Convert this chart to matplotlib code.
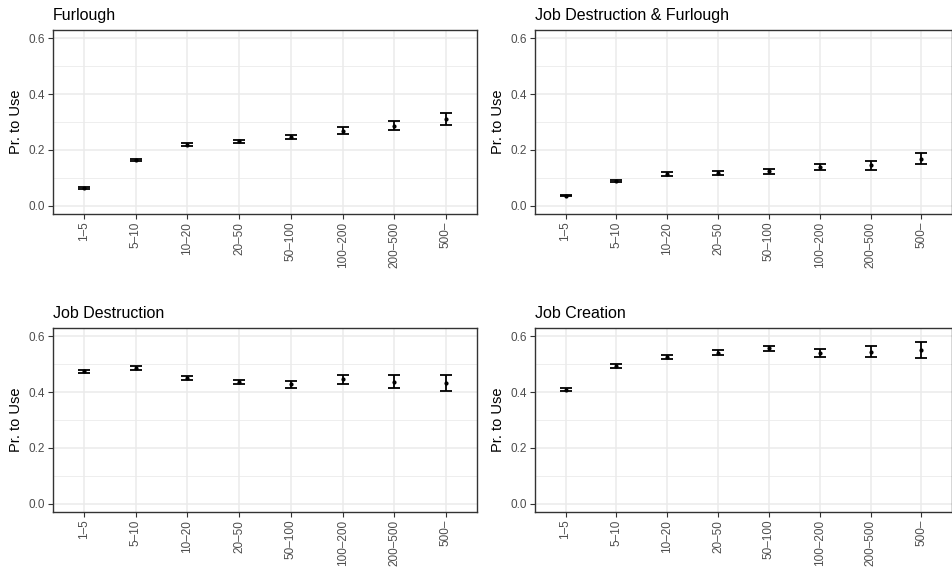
import numpy as np
import matplotlib
matplotlib.use("Agg")
import matplotlib.pyplot as plt
from matplotlib.ticker import MultipleLocator

plt.rcParams['font.family'] = ['Liberation Sans', 'DejaVu Sans']

# firm size classes
sizes = ["1–5", "5–10", "10–20", "20–50", "50–100", "100–200", "200–500", "500–"]

# estimated probability of use and half-width of the interval
furlough = [0.063, 0.165, 0.218, 0.231, 0.247, 0.269, 0.287, 0.310]
furlough_err = [0.004, 0.004, 0.005, 0.005, 0.008, 0.012, 0.015, 0.022]

jd_furlough = [0.036, 0.089, 0.114, 0.117, 0.123, 0.140, 0.144, 0.169]
jd_furlough_err = [0.003, 0.003, 0.006, 0.006, 0.008, 0.011, 0.016, 0.019]

job_destruction = [0.474, 0.485, 0.451, 0.437, 0.428, 0.446, 0.438, 0.434]
job_destruction_err = [0.007, 0.007, 0.008, 0.008, 0.012, 0.016, 0.022, 0.029]

job_creation = [0.409, 0.494, 0.527, 0.542, 0.557, 0.541, 0.545, 0.550]
job_creation_err = [0.006, 0.006, 0.007, 0.009, 0.009, 0.014, 0.020, 0.028]

panels = [
    ("Furlough", furlough, furlough_err),
    ("Job Destruction & Furlough", jd_furlough, jd_furlough_err),
    ("Job Destruction", job_destruction, job_destruction_err),
    ("Job Creation", job_creation, job_creation_err),
]

W, H = 953, 572
fig = plt.figure(figsize=(W / 100, H / 100), dpi=100)

# axes boxes in pixels: left, top, right, bottom
boxes = [(53, 30, 477, 214), (535, 30, 952, 214),
         (53, 328, 477, 512), (535, 328, 952, 512)]

x = np.arange(len(sizes))
for (title, vals, errs), (l, t, r, b) in zip(panels, boxes):
    ax = fig.add_axes([l / W, 1 - b / H, (r - l) / W, (b - t) / H])
    ax.errorbar(x, vals, yerr=errs, fmt='o', color='black', ms=2,
                elinewidth=1.3, capsize=4.2, capthick=1.3, zorder=3)
    ax.set_xlim(-0.6, len(sizes) - 0.4)
    ax.set_ylim(-0.03, 0.63)
    ax.set_xticks(x)
    ax.set_xticklabels(sizes, rotation=90, va='top', ha='center')
    ax.yaxis.set_major_locator(MultipleLocator(0.2))
    ax.yaxis.set_minor_locator(MultipleLocator(0.1))
    ax.yaxis.set_major_formatter(matplotlib.ticker.FormatStrFormatter('%.1f'))
    ax.grid(which='major', color='#EBEBEB', lw=1.1, zorder=0)
    ax.grid(which='minor', axis='y', color='#EBEBEB', lw=0.6, zorder=0)
    ax.set_axisbelow(True)
    ax.tick_params(which='minor', length=0)
    ax.tick_params(which='major', length=3.5, color='#333333', width=0.8,
                   labelsize=8.5, labelcolor='#4D4D4D', pad=2)
    for s in ax.spines.values():
        s.set_color('#333333')
        s.set_linewidth(1.0)
    ax.set_ylabel("Pr. to Use", fontsize=10.5, labelpad=4)
    ax.set_title(title, loc='left', fontsize=11.5, pad=7)

fig.savefig("out.png", dpi=100)
